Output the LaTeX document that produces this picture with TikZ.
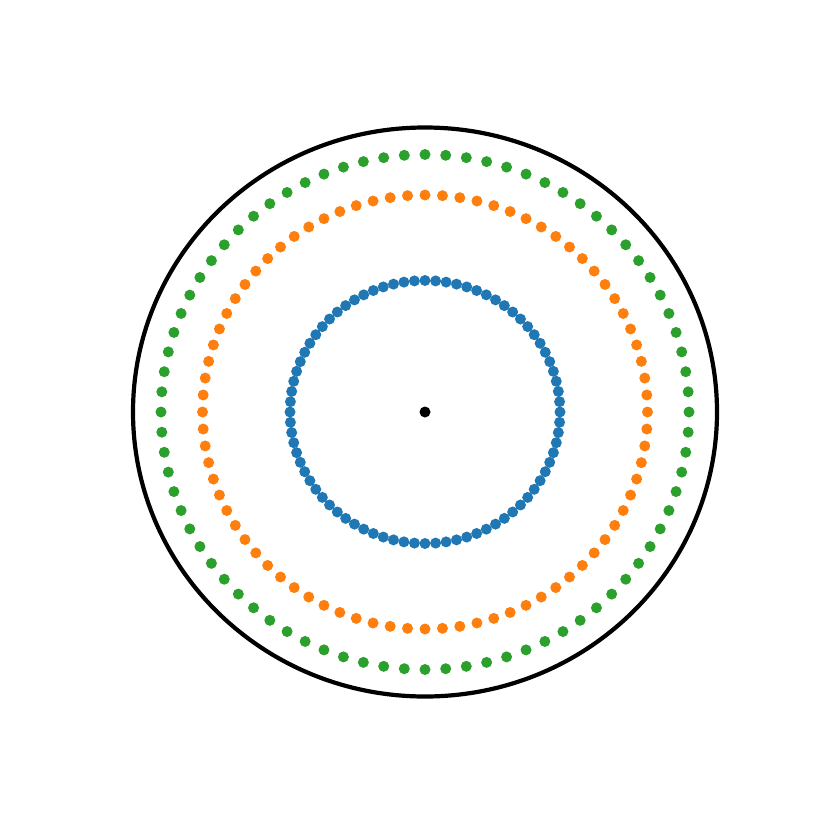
\documentclass[tikz,border=0pt]{standalone}
\usepackage{xcolor}
\usetikzlibrary{calc}
\definecolor{tabblue}{HTML}{1F77B4}
\definecolor{taborange}{HTML}{FF7F0E}
\definecolor{tabgreen}{HTML}{2CA02C}

\begin{document}
\begin{tikzpicture}
    [
      x=1pt, y=-1pt,
      ringdot/.style = {circle, inner sep=0pt, minimum size=11pt},
      rim/.style = {draw=black, line width=4.2pt}
    ]
    \useasboundingbox (0,0) rectangle (830,830);

    \coordinate (centre) at (425,412);
    \draw[rim] (centre) ellipse [x radius=292, y radius=284.5];

    % three rings of dots
    \foreach \rx/\ry/\col in {135/131.5/tabblue, 222.5/217/taborange, 264/257.5/tabgreen}
      \foreach \k in {0,...,79}
        \node[ringdot, fill=\col] at ($(centre)+({\rx*cos(4.5*\k)},{\ry*sin(4.5*\k)})$) {};

    \node[ringdot, fill=black] (origin) at (centre) {};
\end{tikzpicture}
\end{document}
